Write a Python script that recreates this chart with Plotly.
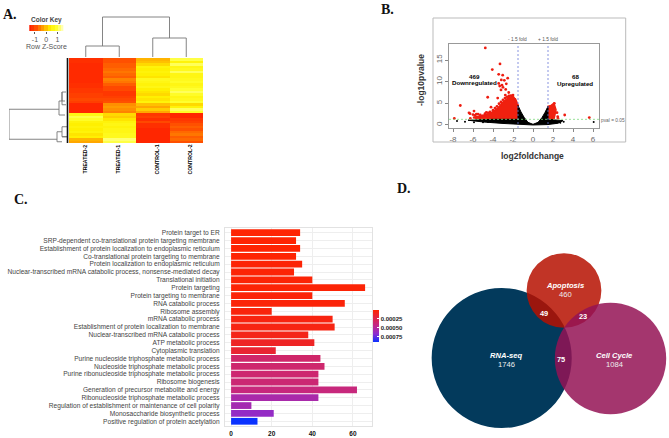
import math
import plotly.graph_objects as go

W, H = 669, 438

# ---------- Panel A data ----------
columns = ["TREATED-2", "TREATED-1", "CONTROL-1", "CONTROL-2"]
treated_2 = [-1.3,-1.3,-1.35,-1.35,-1.35,-1.35,-1.35,-1.35,-1.35,-1.35,-1.3,-1.3,-1.2,-1.2,-1.1,-1.1,-1.0,-1.1,
             -1.4,-1.4,-1.4,-1.4, 0.6,1.0,0.8,0.5,0.4,0.5,0.4,0.5,0.3,0.4,-0.1,-0.2]
treated_1 = [-0.9,-0.9,-0.8,-0.8,-0.7,-0.6,-0.7,-0.8,-0.5,-0.6,-0.8,-1.0,-1.0,-1.2,-1.2,-1.1,-1.0,-0.9,
             -0.4,-0.3,-0.4,-0.5, 0.2,0.1,0.3,0.5,0.6,0.5,0.6,0.6,0.7,0.7,1.2,1.0]
control_1 = [-0.1,0.0,0.2,0.5,0.4,0.5,0.4,0.3,0.7,0.6,0.5,0.6,0.4,0.3,0.2,0.4,0.3,0.5,
             0.0,-0.2,0.1,-0.2, -1.2,-1.1,-1.3,-1.0,-1.3,-1.3,-1.4,-1.4,-1.4,-1.4,-1.4,-1.4]
control_2 = [1.0,0.5,1.1,0.6,0.7,1.1,0.6,0.6,0.7,0.8,0.6,0.7,0.9,1.1,0.8,0.6,0.7,0.9,
             0.2,0.5,1.1,0.8, -1.4,-1.4,-1.2,-1.1,-0.9,-0.8,-0.9,-0.7,-0.6,-0.8,-0.7,-0.9]
heat_scale = [[0,"#FF1E00"],[0.2,"#FF5000"],[0.37,"#FF9000"],[0.5,"#FFC000"],[0.63,"#FFF000"],[0.8,"#FFFF30"],[1,"#FFFFB0"]]
key_values = [-1.5,-1.2,-0.9,-0.6,-0.3,0,0.3,0.6,0.9,1.2,1.5]
key_ticks = [-1,0,1]
key_tick_text = ["-1","0","1"]
col_dend_x = [0,0,1,1,None,2,2,3,3,None,0.5,0.5,2.5,2.5]
col_dend_y = [1,12,12,1,None,1,20,20,1,None,12,41,41,20]
row_dend_h = [10,60,60,12,None,4,10,10,4,None,3,7,7,3,None,7,7,None,7,12,12,7,None,2,7,7,2,None,2,7,None,1.5,1.5]
row_dend_y = [20,20,32,32,None,16.7,16.7,22.3,22.3,None,13.1,13.1,18.2,18.2,None,13.1,16.7,None,29,29,33,33,None,27,27,31,31,None,31,31,None,-0.5,33.5]

# ---------- Panel B data ----------
black_region_x = [-6.5,-4,-1.5,-1.5,-1.2,-0.9,-0.5,0,0.5,0.9,1.2,1.5,1.5,3,2.5,1.5,0,-1.5,-3,-5,-6.5]
black_region_y = [1.1,1.3,1.3,4.5,3.0,1.8,0.6,0.15,0.6,1.7,2.9,4.3,1.3,1.0,0.4,0.1,0,0.1,0.35,0.7,1.1]
red_left_x = [-1.5,-1.5,-1.7,-2.0,-2.5,-3.0,-3.5,-4.0,-4.5,-5.0,-5.5,-6.0,-5.0,-3.0,-1.5]
red_left_y = [1.3,4.5,5.6,6.6,6.2,5.2,3.9,3.0,2.4,2.1,1.9,1.7,1.3,1.3,1.3]
red_right_x = [1.5,1.5,1.8,2.1,2.3,2.1,1.5]
red_right_y = [1.3,4.3,4.5,5.0,3.5,1.3,1.3]
red_points_x = [-4.77,-3.3,-4.07,-3.43,-3.03,-2.53,-3.17,-2.87,-3.43,-3.1,-2.67,-3.33,-3,-2.73,-3.2,-2.43,-4.53,-7.27,-7.87,-5.9,-6.4,-6.27,-4.67,-4.2,-3.53,-2.77,-5.67,-5.27,-4.77,2.4,2.47,3.17,5.63,2.13,2.5,
                -6.3,-6.0,-5.8,-5.5,-5.3,-5.0,-4.8,-4.5,-4.3,-4.0,-3.8,-3.6,-3.4,-3.2,-3.0,-2.8,-2.6,-2.4,-2.2,-2.0,-1.8]
red_points_y = [17.8,14.1,12.8,11.7,11.5,10.8,10.4,10.3,9.6,9.2,9.5,9,8.7,8.2,8.1,7.5,6.4,4.5,1.5,3.2,2.8,1.5,2.9,4.1,6.2,6.9,2.5,2.3,2.3,2.85,1.9,2.3,1.7,5,1.5,
                2.6,2.4,2.2,2.5,1.9,2.1,2.6,2.8,3.0,3.4,3.9,4.3,4.9,5.3,5.8,6.2,6.5,6.7,6.8,6.9,5.9]
black_points_x = [-7.6,-6.8,-5.9,-5,-4.5,-4,2.73,3.07,2.07,6.07]
black_points_y = [0.9,0.75,0.6,0.6,0.7,0.75,0.5,0.75,0.5,0.7]
fold_cut = [-1.5, 1.5]
pval_cut = 1.3
volcano_x_ticks = [-8,-6,-4,-2,0,2,4,6]
volcano_x_text = ["-8","-6","-4","-2","0","2","4","6"]
volcano_y_ticks = [0,5,10,15]

# ---------- Panel C data ----------
terms = ["Protein target to ER","SRP-dependent co-translational protein targeting membrane",
 "Establishment of protein localization to endoplasmic reticulum","Co-translational protein targeting to membrane",
 "Protein localization to endoplasmic reticulum","Nuclear-transcribed mRNA catabolic process, nonsense-mediated decay",
 "Translational initiation","Protein targeting","Protein targeting to membrane","RNA catabolic process","Ribosome assembly",
 "mRNA catabolic process","Establishment of protein localization to membrane","Nuclear-transcribed mRNA catabolic process",
 "ATP metabolic process","Cytoplasmic translation","Purine nucleoside triphosphate metabolic process",
 "Nucleoside triphosphate metabolic process","Purine ribonucleoside triphosphate metabolic process","Ribosome biogenesis",
 "Generation of precursor metabolite and energy","Ribonucleoside triphosphate metabolic process",
 "Regulation of establishment or maintenance of cell polarity","Monosaccharide biosynthetic process",
 "Positive regulation of protein acetylation"]
counts = [34,32,34,32,35,31,40,66,40,56,20,50,51,38,41,22,44,46,43,43,62,43,10,21,13]
padj = [0.00001,0.00001,0.00001,0.00001,0.00002,0.00002,0.00002,0.00002,0.00003,0.00003,0.00004,0.00005,0.00006,0.00008,0.00012,0.00016,
        0.00034,0.00035,0.00036,0.00037,0.00040,0.00055,0.00057,0.00064,0.0009]
bar_scale = [[0,"#0A32FF"],[0.25,"#8C2CD0"],[0.5,"#C0288C"],[1,"#FF2400"]]

# ---------- Panel D data ----------
venn_names = ["RNA-seq","Apoptosis","Cell Cycle"]
venn_only = [1746,460,1084]
venn_totals = [1870,532,1182]
venn_pairs = [49,23,75]

fig = go.Figure()

def xd(a, b): return [a/W, b/W]
def yd(top, bot): return [1-bot/H, 1-top/H]

def off(**k):
    d = dict(visible=False, fixedrange=True)
    d.update(k)
    return d

lay = {}
# heatmap
lay["xaxis"] = off(domain=xd(69,203), range=[-0.5,3.5], anchor="y")
lay["yaxis"] = off(domain=yd(58,143), range=[33.5,-0.5], anchor="x")
fig.add_trace(go.Heatmap(z=[list(r) for r in zip(treated_2,treated_1,control_1,control_2)], x=[0,1,2,3], y=list(range(len(treated_2))),
    colorscale=heat_scale, zmin=-1.5, zmax=1.5, showscale=False, xaxis="x", yaxis="y"))
# color key
lay["xaxis2"] = dict(domain=xd(29.3,63.3), range=[-1.5,1.52], anchor="y2", tickvals=key_ticks, ticktext=key_tick_text, ticks="outside", ticklen=2, tickwidth=0.7,
                     tickcolor="#555", showgrid=False, zeroline=False, tickfont=dict(family="Liberation Sans",size=7,color="#555"), fixedrange=True)
lay["yaxis2"] = off(domain=yd(25,31), range=[0,1], anchor="x2")
fig.add_trace(go.Heatmap(z=[key_values], x=key_values, y=[0.5], colorscale=heat_scale, zmin=-1.5, zmax=1.5, showscale=False, xaxis="x2", yaxis="y2"))
# column dendrogram
lay["xaxis3"] = off(domain=xd(69,203), range=[-0.5,3.5], anchor="y3")
lay["yaxis3"] = off(domain=yd(15,58), range=[0,43], anchor="x3")
fig.add_trace(go.Scatter(x=col_dend_x, y=col_dend_y, mode="lines", line=dict(color="#777",width=0.9), xaxis="x3", yaxis="y3", hoverinfo="skip"))
# row dendrogram
lay["xaxis4"] = off(domain=xd(9,69), range=[60,0], anchor="y4")
lay["yaxis4"] = off(domain=yd(58,143), range=[33.5,-0.5], anchor="x4")
fig.add_trace(go.Scatter(x=row_dend_h, y=row_dend_y, mode="lines", line=dict(color="#777",width=0.9), xaxis="x4", yaxis="y4", hoverinfo="skip"))
fig.add_trace(go.Scatter(x=[1.5,1.5], y=[-0.5,33.5], mode="lines", line=dict(color="#111",width=1.6), xaxis="x4", yaxis="y4", hoverinfo="skip"))

# volcano
vfont = dict(family="Liberation Sans", size=8, color="#666")
lay["xaxis5"] = dict(domain=xd(449,599), range=[-8.4,6.6], anchor="y5", tickvals=volcano_x_ticks, ticktext=volcano_x_text, ticks="outside", ticklen=3, tickcolor="#888",
                     showgrid=False, zeroline=False, showline=True, mirror=True, linecolor="#999", linewidth=1, tickfont=vfont, fixedrange=True)
lay["yaxis5"] = dict(domain=yd(44,128), range=[-0.7,18.7], anchor="x5", tickvals=volcano_y_ticks, ticks="outside", ticklen=3, tickcolor="#888", tickangle=-90,
                     showgrid=False, zeroline=False, showline=True, mirror=True, linecolor="#999", linewidth=1, tickfont=vfont, fixedrange=True)
for xs, ys, c, lw in [(red_left_x,red_left_y,"#F0200F",2),(red_right_x,red_right_y,"#F0200F",1.5),(black_region_x,black_region_y,"#000",1)]:
    fig.add_trace(go.Scatter(x=xs,y=ys,mode="lines",fill="toself",fillcolor=c,line=dict(width=lw,color=c),xaxis="x5",yaxis="y5",hoverinfo="skip"))
fig.add_trace(go.Scatter(x=red_points_x,y=red_points_y,mode="markers",marker=dict(color="#EE1C10",size=2.8),xaxis="x5",yaxis="y5"))
fig.add_trace(go.Scatter(x=black_points_x,y=black_points_y,mode="markers",marker=dict(color="#000",size=2),xaxis="x5",yaxis="y5"))
for c in fold_cut:
    fig.add_trace(go.Scatter(x=[c,c],y=[-0.7,18.7],mode="lines",line=dict(color="#6A78D8",width=0.8,dash="2px,2px"),xaxis="x5",yaxis="y5",hoverinfo="skip"))
fig.add_trace(go.Scatter(x=[-8.4,6.6],y=[pval_cut,pval_cut],mode="lines",line=dict(color="#7ED87E",width=0.8,dash="2px,2px"),xaxis="x5",yaxis="y5",hoverinfo="skip"))

# bars
lay["xaxis6"] = dict(domain=xd(225,372), range=[-3,69.4], anchor="y6", tickvals=[0,20,40,60], ticks="", showgrid=True, gridcolor="#EEE", gridwidth=0.7,
                     zeroline=False, showline=True, mirror=True, linecolor="#E2E2E2", linewidth=1,
                     tickfont=dict(family="Liberation Sans",size=6.5,color="#111",weight="bold"), fixedrange=True, ticklabelstandoff=1)
lay["yaxis6"] = dict(domain=yd(228,426), range=[24.6,-0.6], anchor="x6", tickmode="array", tickvals=list(range(len(terms))), ticktext=terms, ticks="",
                     showgrid=True, gridcolor="#EEE", gridwidth=0.7, zeroline=False, showline=True, mirror=True, linecolor="#E2E2E2", linewidth=1, ticklabelstandoff=3,
                     tickfont=dict(family="Liberation Sans",size=6.6,color="#444"), fixedrange=True)
fig.add_trace(go.Bar(x=counts, y=list(range(len(terms))), orientation="h", width=0.86,
    marker=dict(color=[-p for p in padj], cmin=-0.0009, cmax=0, colorscale=bar_scale, showscale=True, line=dict(width=0),
        colorbar=dict(x=373/W, xanchor="left", xpad=0, ypad=0, y=1-326/H, yanchor="middle", len=32/H, lenmode="fraction", thickness=6, thicknessmode="pixels",
                      outlinewidth=0, tickvals=[-0.00025,-0.0005,-0.00075], ticktext=["0.00025","0.00050","0.00075"], ticks="inside", ticklen=2, tickcolor="#fff",
                      tickfont=dict(family="Liberation Sans",size=6,color="#222",weight="bold"))),
    xaxis="x6", yaxis="y6", hoverinfo="skip"))

# venn
lay["xaxis7"] = off(domain=xd(420,669), range=[0,249], anchor="y7")
lay["yaxis7"] = off(domain=yd(240,438), range=[198,0], anchor="x7")
k = 1.62
centers = [(81.7,118),(144,50.5),(190.5,118.5)]
venn_colors = ["#033A5C","#B61100","#941355"]
venn_alpha = [1,0.85,0.85]
shapes = []
for (cx,cy),tot,c,a in zip(centers,venn_totals,venn_colors,venn_alpha):
    r = k*math.sqrt(tot)
    shapes.append(dict(type="circle",xref="x7",yref="y7",x0=cx-r,x1=cx+r,y0=cy-r,y1=cy+r,fillcolor=c,opacity=a,line=dict(width=0)))
fig.add_trace(go.Scatter(x=[0],y=[0],mode="markers",marker=dict(opacity=0),xaxis="x7",yaxis="y7",hoverinfo="skip"))
# outer frame of B
shapes.append(dict(type="rect",xref="paper",yref="paper",x0=433/W,x1=625.7/W,y0=1-142/H,y1=1-18/H,line=dict(color="#BBB",width=1)))

ann = []
def T(text,x,y,size,color="#000",bold=False,italic=False,family="Liberation Sans",angle=0,anchor="center"):
    ann.append(dict(text=text,x=x/W,y=1-y/H,xref="paper",yref="paper",showarrow=False,xanchor=anchor,yanchor="middle",textangle=angle,
                    font=dict(family=family,size=size,color=color,weight="bold" if bold else "normal",style="italic" if italic else "normal")))
S = "Liberation Serif"
T("A.",9.5,14,14,"#111",True,family=S); T("B.",387,10,14,"#111",True,family=S); T("C.",21,199,14,"#111",True,family=S); T("D.",404,188,14,"#111",True,family=S)
T("Color Key",46,20,6.5,"#444",True); T("Row Z-Score",46,46,7,"#555")
for name,x in zip(columns,[85,118,157,190]):
    T(name,x,159.5,5.2,"#000",True,angle=-90)
T("- 1.5 fold",517,39,4.8,"#555"); T("+ 1.5 fold",548,39,4.8,"#555"); T("pval = 0.05",613,120,4.8,"#666")
T("469",474,76,6.2,"#000",True); T("Downregulated",474,82.5,6.2,"#000",True)
T("68",575,77,6.2,"#000",True); T("Upregulated",575,83.5,6.2,"#000",True)
T("-log10pvalue",421,80,8.5,"#333",True,angle=-90); T("log2foldchange",532,156,8.5,"#333",True)
for name,n,x,y in zip(venn_names,venn_only,[506,565,614],[355,285.5,355]):
    T(name,x,y,7.6,"#fff",True,True); T(str(n),x,y+9,7.6,"#eee")
for n,x,y in zip(venn_pairs,[544,583,561],[313,316,359]):
    T(str(n),x,y,7.4,"#fff",True)

fig.update_layout(width=W,height=H,margin=dict(l=0,r=0,t=0,b=0),paper_bgcolor="#fff",plot_bgcolor="#fff",showlegend=False,
                  shapes=shapes,annotations=ann,font=dict(family="Liberation Sans"),**lay)
fig.write_html("out.html", post_script="document.body.style.margin='0';", config=dict(displayModeBar=False))
